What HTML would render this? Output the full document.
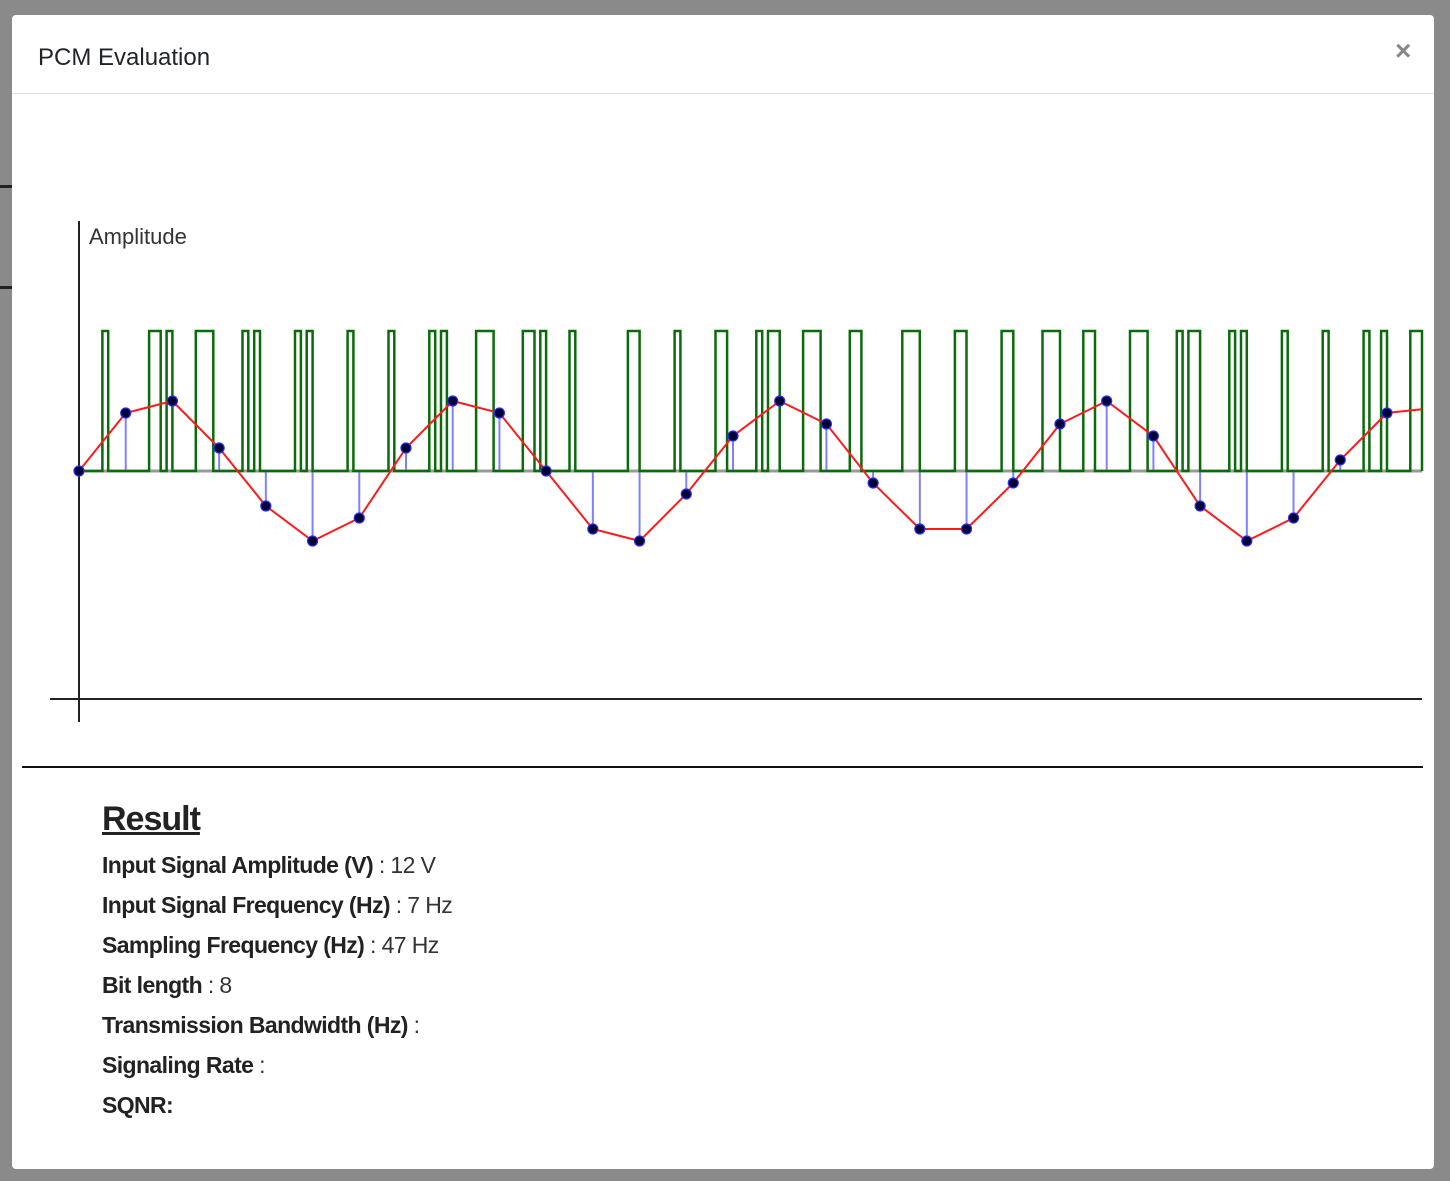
<!DOCTYPE html>
<html><head><meta charset="utf-8">
<style>
html,body{margin:0;padding:0;width:1450px;height:1181px;overflow:hidden;background:#8a8a8a;font-family:"Liberation Sans",sans-serif;}
#modal{position:absolute;left:12px;top:15px;width:1422px;height:1154px;background:#fff;border-radius:4px;}
#hdr{position:absolute;left:0;top:0;width:1422px;height:78px;border-bottom:1px solid #e3e3e3;}
#title{position:absolute;left:26px;top:29px;font-size:24px;color:#212529;}
#close{position:absolute;left:1383px;top:20px;font-size:28px;color:#888;font-weight:bold;}
#sep{position:absolute;left:10px;top:751px;width:1401px;height:2px;background:#111;}
#res{position:absolute;left:90px;top:785px;color:#222;}
#res h2{margin:0 0 6px 0;font-size:34px;font-weight:bold;text-decoration:underline;letter-spacing:-1px;}
.row{font-size:23px;height:40px;line-height:40px;letter-spacing:-0.6px;}
.row b{font-weight:bold;}
.row span{font-weight:normal;color:#333;}
svg{position:absolute;left:0;top:0;}
</style></head><body>
<div style="position:absolute;left:0;top:185px;width:12px;height:3px;background:#222"></div>
<div style="position:absolute;left:0;top:286px;width:12px;height:3px;background:#222"></div>
<div id="modal">
 <div id="hdr">
  <div id="title">PCM Evaluation</div>
  <div id="close">×</div>
 </div>
 <div id="sep"></div>
 <div id="res">
  <h2>Result</h2>
  <div class="row"><b>Input Signal Amplitude (V)</b><span> : 12 V</span></div>
  <div class="row"><b>Input Signal Frequency (Hz)</b><span> : 7 Hz</span></div>
  <div class="row"><b>Sampling Frequency (Hz)</b><span> : 47 Hz</span></div>
  <div class="row"><b>Bit length</b><span> : 8</span></div>
  <div class="row"><b>Transmission Bandwidth (Hz)</b><span> :</span></div>
  <div class="row"><b>Signaling Rate</b><span> :</span></div>
  <div class="row"><b>SQNR:</b></div>
 </div>
</div>
<svg id="chart" width="1450" height="1181"></svg>
<script>
const samples=[0,9.94,12,3.94,-6,-12,-8.06,3.94,12,9.94,0,-9.94,-12,-3.94,6,12,8.06,-2.06,-9.94,-9.94,-2.06,8.06,12,6,-6,-12,-8.06,1.89,9.94];
const tailValue=10.6;
const highBits=[4,12,13,15,20,21,22,28,30,37,39,46,53,60,62,68,69,70,76,77,79,84,94,95,102,109,110,116,118,119,124,125,126,132,133,141,142,143,150,151,158,159,165,166,167,172,173,180,181,182,188,190,191,197,199,206,213,220,223,228,229];
const totalBits=230;
const bitsPerSample=8;
const amplitude=12;

const NS='http://www.w3.org/2000/svg';
const svg=document.getElementById('chart');
const x0=79,x1=1422,y0=471,ampPx=70;
const bitW=(x1-x0)/totalBits;
const xs=i=>x0+i*bitsPerSample*bitW;
const xb=b=>x0+b*bitW;
const ys=v=>y0-v*ampPx/amplitude;
const yHigh=331;
function mk(t,a){const e=document.createElementNS(NS,t);for(const k in a)e.setAttribute(k,a[k]);svg.appendChild(e);return e;}

let e;
e=mk('line',{x1:x0,y1:221,x2:x0,y2:722,stroke:'#222','stroke-width':2});


e=mk('line',{x1:50,y1:699,x2:x1,y2:699,stroke:'#222','stroke-width':2});


e=mk('text',{x:89,y:244,'font-size':22,fill:'#333','font-family':'Liberation Sans, sans-serif'});
e.textContent='Amplitude';


e=mk('line',{x1:x0,y1:y0,x2:x1,y2:y0,stroke:'#999','stroke-width':3});



samples.forEach((v,i)=>{
 const s=mk('line',{x1:xs(i),y1:y0,x2:xs(i),y2:ys(v),stroke:'#8080ff','stroke-width':2});
 
 
});

const hs=new Set(highBits);
let d='M'+x0+' '+y0;
let prev=0;
for(let b=0;b<totalBits;b++){
 const lvl=hs.has(b)?1:0;
 const x=xb(b);
 if(lvl!==prev){d+=' L'+x.toFixed(1)+' '+(prev?yHigh:y0)+' L'+x.toFixed(1)+' '+(lvl?yHigh:y0);prev=lvl;}
}
d+=' L'+x1+' '+(prev?yHigh:y0);
if(prev)d+=' L'+x1+' '+y0;
e=mk('path',{d:d,fill:'none',stroke:'#0a6b0a','stroke-width':2.5});



let pts=samples.map((v,i)=>xs(i).toFixed(1)+','+ys(v).toFixed(1)).join(' ')+' '+x1+','+ys(tailValue).toFixed(1);
e=mk('polyline',{points:pts,fill:'none',stroke:'#ff1a1a','stroke-width':2});



samples.forEach((v,i)=>{
 const c=mk('circle',{cx:xs(i),cy:ys(v),r:5,fill:'#000033',stroke:'#2a2aff','stroke-width':1.2});
 
 
});
</script>
</body></html>
